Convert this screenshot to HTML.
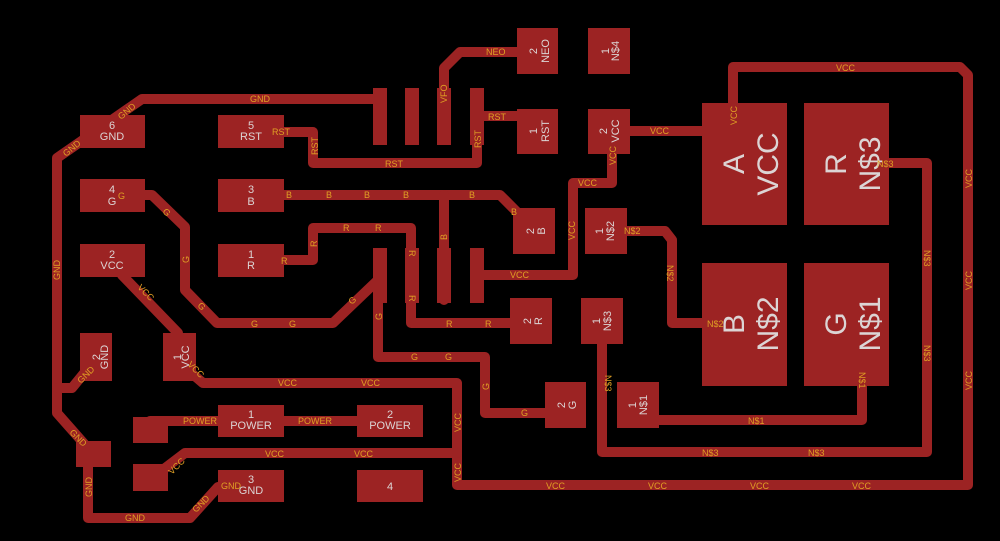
<!DOCTYPE html>
<html><head><meta charset="utf-8"><style>
html,body{margin:0;padding:0;background:#000;}
svg{display:block}
.t{fill:none;stroke:#9c2323;stroke-width:10;stroke-linejoin:round;stroke-linecap:round}
.p{fill:#9c2323}
.l{fill:#e0a024;font-family:"Liberation Sans",sans-serif;font-size:9px}
.n{fill:#dcd4d4;font-family:"Liberation Sans",sans-serif;font-size:11px;text-anchor:middle}
.b{fill:#dcd4d4;font-family:"Liberation Sans",sans-serif;font-size:30px;text-anchor:middle}
</style></head><body>
<svg width="1000" height="541" viewBox="0 0 1000 541" xmlns="http://www.w3.org/2000/svg">
<rect width="1000" height="541" fill="#000"/>
<g class="t">
<polyline points="380,99 142,99 57,158 57,413 87,447"/>
<polyline points="57,388 72,388 85,372"/>
<polyline points="88,447 88,518 190,518 218,487"/>
<polyline points="284,132 313,132 313,163 477,163 477,100"/>
<polyline points="477,116 517,116"/>
<polyline points="444,140 444,68 460,52 517,52"/>
<polyline points="284,195 500,195 517,212"/>
<polyline points="444,195 444,300"/>
<polyline points="284,260 313,260 313,228 411,228 411,323 510,323"/>
<polyline points="145,195 152,195 185,227 185,290 217,323 333,323 378,280"/>
<polyline points="378,260 378,357 485,357 485,413 545,413"/>
<polyline points="122,275 178,333"/>
<polyline points="190,372 203,383 457,383 457,485 968,485 968,75 960,67 733,67 733,105"/>
<polyline points="160,472 185,453 457,453"/>
<polyline points="630,131 702,131"/>
<polyline points="612,154 612,183 573,183 573,275 477,275"/>
<polyline points="150,421 357,421"/>
<polyline points="627,231 665,231 672,240 672,323 702,323"/>
<polyline points="889,163 927,163 927,452 602,452 602,340"/>
<polyline points="862,386 862,420 659,420"/>
</g>
<g class="p">
<rect x="80" y="115" width="65" height="33"/>
<rect x="218" y="115" width="66" height="33"/>
<rect x="80" y="179" width="65" height="33"/>
<rect x="218" y="179" width="66" height="33"/>
<rect x="80" y="244" width="65" height="33"/>
<rect x="218" y="244" width="66" height="33"/>
<rect x="373" y="88" width="14" height="57"/>
<rect x="405" y="88" width="14" height="57"/>
<rect x="437" y="88" width="14" height="57"/>
<rect x="470" y="88" width="14" height="57"/>
<rect x="373" y="248" width="14" height="55"/>
<rect x="405" y="248" width="14" height="55"/>
<rect x="437" y="248" width="14" height="55"/>
<rect x="470" y="248" width="14" height="55"/>
<rect x="517" y="28" width="41" height="46"/>
<rect x="588" y="28" width="42" height="46"/>
<rect x="517" y="109" width="41" height="45"/>
<rect x="588" y="109" width="42" height="45"/>
<rect x="513" y="208" width="42" height="46"/>
<rect x="585" y="208" width="42" height="46"/>
<rect x="510" y="298" width="42" height="46"/>
<rect x="581" y="298" width="42" height="46"/>
<rect x="545" y="382" width="41" height="46"/>
<rect x="617" y="382" width="42" height="46"/>
<rect x="702" y="103" width="85" height="122"/>
<rect x="804" y="103" width="85" height="122"/>
<rect x="702" y="263" width="85" height="123"/>
<rect x="804" y="263" width="85" height="123"/>
<rect x="80" y="333" width="32" height="48"/>
<rect x="163" y="333" width="33" height="48"/>
<rect x="133" y="417" width="35" height="26"/>
<rect x="218" y="405" width="66" height="32"/>
<rect x="357" y="405" width="66" height="32"/>
<rect x="76" y="441" width="35" height="26"/>
<rect x="133" y="464" width="35" height="27"/>
<rect x="218" y="470" width="66" height="32"/>
<rect x="357" y="470" width="66" height="32"/>
</g>
<g class="n">
<text x="112" y="129">6</text><text x="112" y="140">GND</text>
<text x="251" y="129">5</text><text x="251" y="140">RST</text>
<text x="112" y="193">4</text><text x="112" y="205">G</text>
<text x="251" y="193">3</text><text x="251" y="205">B</text>
<text x="112" y="258">2</text><text x="112" y="269">VCC</text>
<text x="251" y="258">1</text><text x="251" y="269">R</text>
<text x="251" y="418">1</text><text x="251" y="429">POWER</text>
<text x="390" y="418">2</text><text x="390" y="429">POWER</text>
<text x="251" y="483">3</text><text x="251" y="494">GND</text>
<text x="390" y="490">4</text>
<text transform="translate(100,357) rotate(-90)">2</text>
<text transform="translate(108,357) rotate(-90)">GND</text>
<text transform="translate(181,357) rotate(-90)">1</text>
<text transform="translate(189,357) rotate(-90)">VCC</text>
<text transform="translate(537,51) rotate(-90)">2</text><text transform="translate(549,51) rotate(-90)">NEO</text>
<text transform="translate(609,51) rotate(-90)">1</text><text transform="translate(619,51) rotate(-90)">N$4</text>
<text transform="translate(537,131) rotate(-90)">1</text><text transform="translate(549,131) rotate(-90)">RST</text>
<text transform="translate(607,131) rotate(-90)">2</text><text transform="translate(619,131) rotate(-90)">VCC</text>
<text transform="translate(534,231) rotate(-90)">2</text><text transform="translate(545,231) rotate(-90)">B</text>
<text transform="translate(603,231) rotate(-90)">1</text><text transform="translate(614,231) rotate(-90)">N$2</text>
<text transform="translate(531,321) rotate(-90)">2</text><text transform="translate(542,321) rotate(-90)">R</text>
<text transform="translate(600,321) rotate(-90)">1</text><text transform="translate(611,321) rotate(-90)">N$3</text>
<text transform="translate(565,405) rotate(-90)">2</text><text transform="translate(576,405) rotate(-90)">G</text>
<text transform="translate(636,405) rotate(-90)">1</text><text transform="translate(647,405) rotate(-90)">N$1</text>
</g>
<g class="b">
<text transform="translate(744,164) rotate(-90)">A</text><text transform="translate(778,164) rotate(-90)">VCC</text>
<text transform="translate(846,164) rotate(-90)">R</text><text transform="translate(880,164) rotate(-90)">N$3</text>
<text transform="translate(744,324) rotate(-90)">B</text><text transform="translate(778,324) rotate(-90)">N$2</text>
<text transform="translate(846,324) rotate(-90)">G</text><text transform="translate(880,324) rotate(-90)">N$1</text>
</g>
<g class="l">
<text x="250" y="102">GND</text>
<text transform="translate(121,120) rotate(-40)">GND</text>
<text transform="translate(66,157) rotate(-40)">GND</text>
<text transform="translate(60,280) rotate(-90)">GND</text>
<text x="272" y="135">RST</text>
<text transform="translate(318,155) rotate(-90)">RST</text>
<text x="385" y="167">RST</text>
<text transform="translate(481,148) rotate(-90)">RST</text>
<text x="488" y="120">RST</text>
<text x="486" y="55">NEO</text>
<text transform="translate(447,103) rotate(-90)">VFO</text>
<text x="286" y="198">B</text><text x="326" y="198">B</text><text x="364" y="198">B</text><text x="403" y="198">B</text><text x="469" y="198">B</text>
<text x="511" y="215">B</text>
<text transform="translate(447,240) rotate(-90)">B</text>
<text x="281" y="264">R</text>
<text transform="translate(317,247) rotate(-90)">R</text>
<text x="343" y="231">R</text><text x="375" y="231">R</text>
<text transform="translate(409,250) rotate(90)">R</text>
<text transform="translate(409,295) rotate(90)">R</text>
<text x="446" y="327">R</text><text x="485" y="327">R</text>
<text x="118" y="199">G</text>
<text transform="translate(162,212) rotate(45)">G</text>
<text transform="translate(189,263) rotate(-90)">G</text>
<text transform="translate(197,306) rotate(45)">G</text>
<text x="251" y="327">G</text><text x="289" y="327">G</text>
<text transform="translate(352,305) rotate(-45)">G</text>
<text transform="translate(382,320) rotate(-90)">G</text>
<text x="411" y="360">G</text><text x="445" y="360">G</text>
<text transform="translate(489,390) rotate(-90)">G</text>
<text x="521" y="416">G</text>
<text transform="translate(137,288) rotate(45)">VCC</text>
<text transform="translate(187,365) rotate(45)">VCC</text>
<text x="278" y="386">VCC</text><text x="361" y="386">VCC</text>
<text transform="translate(461,432) rotate(-90)">VCC</text>
<text transform="translate(461,482) rotate(-90)">VCC</text>
<text x="265" y="457">VCC</text><text x="354" y="457">VCC</text>
<text transform="translate(172,475) rotate(-45)">VCC</text>
<text x="546" y="489">VCC</text><text x="648" y="489">VCC</text><text x="750" y="489">VCC</text><text x="852" y="489">VCC</text>
<text transform="translate(972,188) rotate(-90)">VCC</text>
<text transform="translate(972,290) rotate(-90)">VCC</text>
<text transform="translate(972,390) rotate(-90)">VCC</text>
<text x="836" y="71">VCC</text>
<text transform="translate(737,125) rotate(-90)">VCC</text>
<text x="650" y="134">VCC</text>
<text transform="translate(616,165) rotate(-90)">VCC</text>
<text x="578" y="186">VCC</text>
<text transform="translate(575,240) rotate(-90)">VCC</text>
<text x="510" y="278">VCC</text>
<text x="183" y="424">POWER</text><text x="298" y="424">POWER</text>
<text transform="translate(69,433) rotate(45)">GND</text>
<text transform="translate(92,497) rotate(-90)">GND</text>
<text x="125" y="521">GND</text>
<text transform="translate(196,513) rotate(-45)">GND</text>
<text x="221" y="489">GND</text>
<text transform="translate(81,384) rotate(-45)">GND</text>
<text x="624" y="234">N$2</text>
<text transform="translate(667,265) rotate(90)">N$2</text>
<text x="707" y="327">N$2</text>
<text x="877" y="167">N$3</text>
<text transform="translate(924,250) rotate(90)">N$3</text>
<text transform="translate(924,345) rotate(90)">N$3</text>
<text x="702" y="456">N$3</text><text x="808" y="456">N$3</text>
<text transform="translate(605,375) rotate(90)">N$3</text>
<text x="748" y="424">N$1</text>
<text transform="translate(859,372) rotate(90)">N$1</text>
</g>
</svg>
</body></html>
